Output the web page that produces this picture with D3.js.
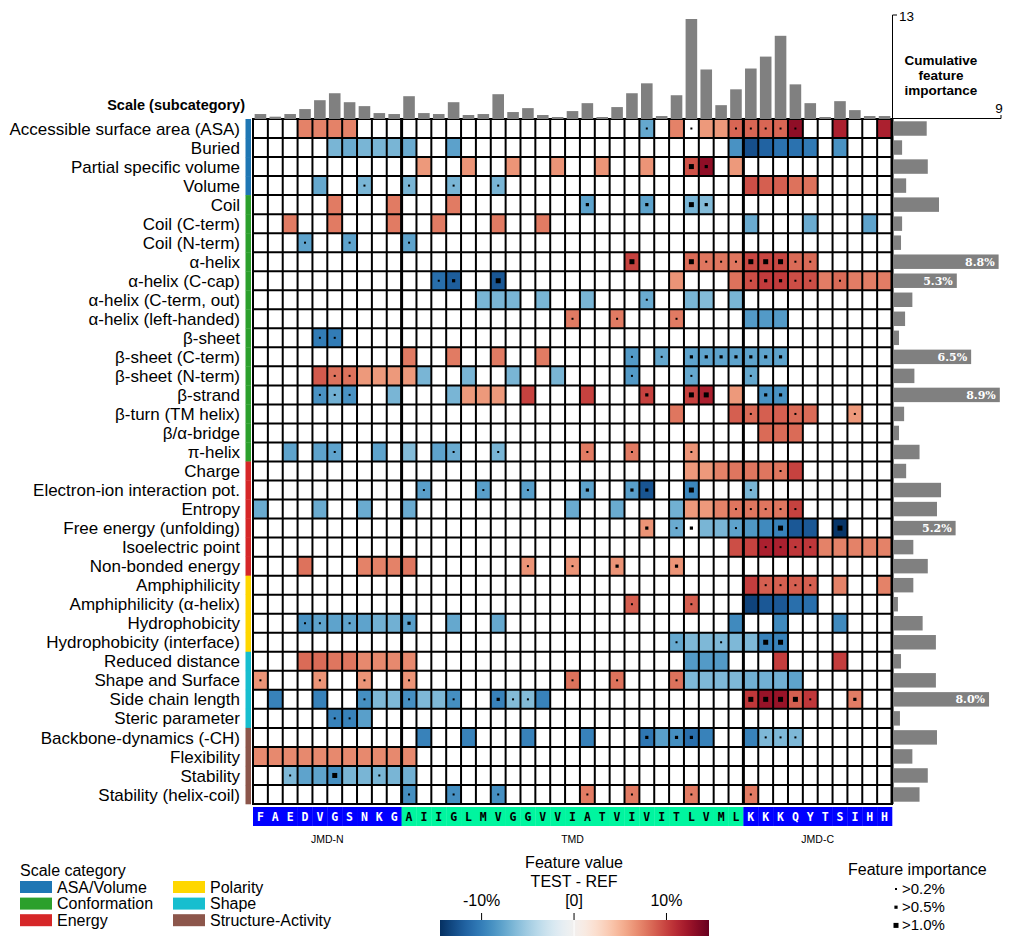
<!DOCTYPE html>
<html><head><meta charset="utf-8">
<script src="https://cdn.jsdelivr.net/npm/d3@7"></script>
<style>
body{margin:0;background:#fff;}
text{font-family:"Liberation Sans", Arial, sans-serif;}
</style></head><body>
<svg id="chart" width="1013" height="947"></svg>
<script>
// ---------------- DATA ----------------
const residues = [..."FAEDVGSNKGAIIGLMVGGVVIATVIVITLVMLKKKQYTSIHH"];
const parts = [
  {name:"JMD-N", start:0, end:10},
  {name:"TMD", start:10, end:33},
  {name:"JMD-C", start:33, end:43}
];
const scales = ["Accessible surface area (ASA)","Buried","Partial specific volume","Volume",
 "Coil","Coil (C-term)","Coil (N-term)","α-helix","α-helix (C-cap)","α-helix (C-term, out)",
 "α-helix (left-handed)","β-sheet","β-sheet (C-term)","β-sheet (N-term)","β-strand",
 "β-turn (TM helix)","β/α-bridge","π-helix","Charge","Electron-ion interaction pot.","Entropy",
 "Free energy (unfolding)","Isoelectric point","Non-bonded energy","Amphiphilicity",
 "Amphiphilicity (α-helix)","Hydrophobicity","Hydrophobicity (interface)","Reduced distance",
 "Shape and Surface","Side chain length","Steric parameter","Backbone-dynamics (-CH)",
 "Flexibility","Stability","Stability (helix-coil)"];
const scaleCategory = [0,0,0,0, 1,1,1,1,1,1,1,1,1,1,1,1,1,1, 2,2,2,2,2,2, 3,3,3,3, 4,4,4,4, 5,5,5,5];
const categoryNames = ["ASA/Volume","Conformation","Energy","Polarity","Shape","Structure-Activity"];
const categoryColors = ["#1f77b4","#2ca02c","#d62728","#ffd700","#17becf","#8c564b"];

// cumulative feature importance per residue position
const positionImportance = [0.62,0.29,0.62,1.24,2.35,3.22,2.1,1.61,0.74,0.62,
  2.85,0.74,0.62,2.1,0.5,0.62,3.1,0.87,1.36,0.5,0.25,0.99,1.98,0.25,1.49,3.22,4.46,0.37,2.97,
  12.5,6.19,1.73,3.71,
  6.31,7.8,10.4,4.33,1.98,0.25,2.23,1.11,0.37,0.37];
// feature importance per scale (%)
const scaleImportance = [2.78,0.72,2.87,1.06,3.81,0.72,0.63,8.8,5.3,1.58,0.97,0.46,6.5,1.75,8.9,
  0.89,0.46,2.18,1.06,3.98,3.64,5.2,1.66,2.87,1.66,0.37,2.44,3.55,0.63,3.55,8.0,0.54,3.64,1.58,2.87,2.18];

// feature values per scale: [position, value (%), importance level 0-3]
const featureValues = [
 [[3,7.3],[4,7.3],[5,7.3],[6,7.3],[26,-7.5,1],[28,7.3],[29,0,1],[30,6.3],[31,6.3],[32,8.5,1],[33,8.5,1],[34,8.5,1],[35,8.5,1],[36,13,1],[39,11.7],[42,11.7]],
 [[5,-6.7],[6,-7.3],[7,-6.7],[8,-6.7],[9,-6.7],[10,-7.3],[13,-7.9],[32,-8.8],[33,-12.8],[34,-11.7],[35,-10.8],[36,-10.8],[37,-10.3],[39,-8.8]],
 [[11,6.3],[14,6.5],[17,6.5],[20,6.5],[23,6.5],[26,6.5],[29,9.3,3],[30,13,2],[32,6.3]],
 [[4,-7.5],[7,-6.7,1],[10,-6.7,1],[13,-6.7,1],[16,-6.7,1],[33,9.5],[34,8.8],[35,8.8],[36,8],[37,8]],
 [[5,7.6],[9,7.6],[13,7.6],[22,-7.8,2],[26,-7.8,2],[29,-6.7,3],[30,-6.3,2]],
 [[2,7.6],[5,7.6],[9,7.6],[12,7.6],[16,7.6],[19,7.6],[33,-7.3],[37,-7.3],[41,-7.8]],
 [[3,-7.8,1],[6,-7.8,1],[10,-7.8,1]],
 [[25,10,3],[29,8.3,3],[30,7.8,1],[31,7.8,1],[32,7.8,1],[33,9.8,3],[34,9.8,3],[35,9.8,3],[36,8.3,1],[37,8.3,1]],
 [[12,-11,1],[13,-12,2],[16,-12.4,3],[28,6.5],[32,8],[33,9.5,1],[34,10.3,2],[35,10.3,2],[36,9.5,1],[37,9.5,1],[38,7.5],[39,8.3,1],[40,7.5],[41,7.5],[42,7.5]],
 [[15,-6.7],[16,-6.7],[17,-6.7],[19,-6.7],[22,-6.7],[26,-7.3,1],[29,-6.7],[30,-6.3],[32,-6.7]],
 [[21,7.6,1],[24,7.6,1],[28,7.6,1],[33,-8.3],[34,-8.3],[35,-8.3]],
 [[4,-10.2,1],[5,-10.2,1]],
 [[10,7.6],[13,7.6],[16,7.6],[19,7.6],[25,-8.3,1],[27,-7.5,1],[29,-7.8,2],[30,-7.8,2],[31,-7.8,2],[32,-7.8,2],[33,-7.8,2],[34,-7.8,2],[35,-7.8,2]],
 [[4,9],[5,8,1],[6,8,1],[7,6.3],[8,6.3],[9,6.3],[10,6.3],[11,-6.7],[14,-6.7],[17,-6.7],[20,-6.7],[25,-8.3,1],[29,-7.5,1],[33,-7.5,1]],
 [[4,-8.8,1],[5,-7,1],[6,-8.8,1],[9,-6.7],[13,-6.7],[14,6.3],[15,6.3],[16,6.3],[18,10],[22,10],[26,10,2],[29,10,3],[30,11.7,3],[32,6.3],[34,-8.8,2],[35,-8.8,2]],
 [[28,7.8],[32,8.8],[33,8.3,1],[34,8.8],[35,8.8],[36,8.3,1],[37,8.3],[40,6.3,1]],
 [[34,8.3],[35,8.3],[36,8.3]],
 [[2,-7.8],[4,-7.8],[5,-7.8,1],[8,-7.8],[10,-6.3],[12,-7.8],[13,-7.3,1],[16,-6.7,1],[22,7.6,1],[25,7.6,1],[29,6.5,1]],
 [[29,6.3],[30,6.3],[31,7.3],[32,7.8],[33,7.8],[34,7.8],[35,7.8,1],[36,10]],
 [[11,-8,1],[15,-8,1],[18,-8,1],[22,-7.8,2],[25,-8,2],[26,-12.5,2],[29,-9.5,3],[33,-6.7,1]],
 [[0,-7.3],[4,-7.3],[7,-7.3],[10,-7.3],[21,-7.3],[24,-7.3],[28,-7],[29,6.3],[30,6.3],[31,7.3],[32,7.8,1],[33,7.8,1],[34,7.8,1],[35,7.8,1],[36,10,1]],
 [[26,6.5,2],[28,-7.3,1],[29,0,2],[30,-6.7],[31,-6.7],[32,-7.8,1],[33,-8.5],[34,-9.3],[35,-9.8,3],[36,-12.3],[37,-12.3],[39,-14.2,3]],
 [[32,9.5],[33,10],[34,11.7,1],[35,11.7,1],[36,10.5,1],[37,10.5,1],[38,7.3],[39,7.3],[40,7.3],[41,7.3],[42,7.3]],
 [[3,8],[7,7.3],[8,7.3],[9,7.3],[10,7.8],[18,6.5,1],[21,6.5,1],[24,6.5,2],[28,6.5,2]],
 [[33,10.2],[34,8.8,1],[35,8.8,1],[36,8.8,1],[37,8.8,1],[39,7.3],[42,7.3]],
 [[25,8.8,1],[29,8.8,1],[33,-13.5],[34,-12.3],[35,-12.3],[36,-11],[37,-11]],
 [[3,-8.8,1],[4,-7.8,1],[5,-7.8],[6,-7.8,1],[7,-7.8],[8,-7],[9,-7],[10,-8,2],[13,-7.5],[16,-7.5],[32,-9.3],[35,-9.3],[39,-9.3]],
 [[28,-7.5,1],[29,-6.5],[30,-6.5],[31,-6.5,1],[32,-6.5],[33,-6.5],[34,-9.8,3],[35,-9.8,3]],
 [[3,8.3],[4,8.3],[5,7.8],[6,7.8],[7,7],[8,7],[9,7],[10,7],[29,-8.3],[30,-8.3],[31,-8.3],[35,10.2],[39,10.2]],
 [[0,6.5,1],[4,6.5,1],[7,6.5,1],[10,6.5,1],[21,8,1],[24,8,1],[28,8,1],[29,-6.5],[30,-6.5],[31,-6.5],[32,-6.5],[33,-7],[34,-7],[35,-7],[36,-7.8]],
 [[1,-9.8],[4,-9.8],[7,-9,1],[8,-6.5],[9,-6.5],[10,-9,1],[11,-6.5],[12,-6.5],[13,-9,1],[16,-9.8,2],[17,-6.3,1],[18,-6.3,1],[19,-9.8],[33,10.5,3],[34,12.6,3],[35,12.6,3],[36,8.8,3],[37,10.5,1],[40,7.5,2]],
 [[5,-9.8,1],[6,-9.8,1],[7,-8]],
 [[11,-9.8],[14,-9.8],[18,-9.8],[22,-9.8],[26,-10.5,2],[27,-8],[28,-9,2],[29,-11,2],[30,-9.8],[33,-9.8],[34,-6.5,1],[35,-6.5,1],[36,-6.5,1]],
 [[0,7],[1,7],[2,7],[3,7],[4,7],[5,7],[6,7],[7,7],[8,7],[9,7],[10,7]],
 [[2,-6.5,1],[3,-7.8],[4,-7.8],[5,-9,3],[6,-6.7],[7,-6.7],[8,-6.7,1],[9,-6.7],[10,-7]],
 [[10,-9,1],[13,-9,1],[16,-9,1],[22,7.6,1],[25,7.6,1],[29,7.6,1],[33,7.6,1]]
];
const colorTicks = [-10, 0, 10];
const colorTickLabels = ["-10%", "[0]", "10%"];
const importanceLevels = [">0.2%", ">0.5%", ">1.0%"];

// ---------------- DRAW ----------------
const svg = d3.select("#chart");
const X0 = 253, X1 = 892, Y0 = 119, Y1 = 804;
const xb = d3.scaleBand().domain(d3.range(residues.length)).range([X0, X1]);
const yb = d3.scaleBand().domain(d3.range(scales.length)).range([Y0, Y1]);
const bw = xb.bandwidth(), bh = yb.bandwidth();
const color = d3.scaleDiverging(t => d3.interpolateRdBu(1 - t)).domain([-14.5, 0, 14.6]);
const dotSize = [0, 2, 3.2, 5];

// cells
const cells = [];
featureValues.forEach((row, r) => row.forEach(([c, v, imp]) => cells.push({r, c, v, imp: imp || 0})));
svg.append("g").selectAll("rect").data(cells).join("rect")
  .attr("x", d => xb(d.c)).attr("y", d => yb(d.r))
  .attr("width", bw).attr("height", bh)
  .attr("fill", d => d.v === 0 ? "#fff" : color(d.v));

// grid
const grid = svg.append("g").attr("stroke", "#000");
d3.range(residues.length + 1).forEach(i => {
  const x = i === residues.length ? X1 : xb(i);
  const thick = (i === 10 || i === 33 || i === residues.length);
  grid.append("line").attr("x1", x).attr("x2", x).attr("y1", Y0).attr("y2", Y1)
    .attr("stroke-width", thick ? 3 : 2);
});
d3.range(scales.length + 1).forEach(r => {
  const y = r === scales.length ? Y1 : yb(r);
  grid.append("line").attr("x1", X0 - 1).attr("x2", X1 + 1).attr("y1", y).attr("y2", y)
    .attr("stroke-width", 2);
});

// importance dots
svg.append("g").selectAll("rect").data(cells.filter(d => d.imp > 0)).join("rect")
  .attr("x", d => xb(d.c) + bw / 2 - dotSize[d.imp] / 2)
  .attr("y", d => yb(d.r) + bh / 2 - dotSize[d.imp] / 2)
  .attr("width", d => dotSize[d.imp]).attr("height", d => dotSize[d.imp])
  .attr("fill", "#000");

// category strip
svg.append("g").selectAll("rect").data(scales).join("rect")
  .attr("x", 245.5).attr("width", 5.5)
  .attr("y", (d, i) => yb(i)).attr("height", bh + 0.3)
  .attr("fill", (d, i) => categoryColors[scaleCategory[i]]);

// row labels
svg.append("g").selectAll("text").data(scales).join("text")
  .attr("x", 240).attr("y", (d, i) => yb(i) + bh / 2)
  .attr("dy", "0.36em").attr("text-anchor", "end")
  .attr("font-size", 17).attr("fill", "#000").text(d => d);

svg.append("text").attr("x", 245).attr("y", 110).attr("text-anchor", "end")
  .attr("font-size", 14.5).attr("font-weight", "bold").text("Scale (subcategory)");

// top bars
const yTop = d3.scaleLinear().domain([0, 13]).range([Y0, 15]);
svg.append("g").selectAll("rect").data(positionImportance).join("rect")
  .attr("x", (d, i) => xb(i) + bw * 0.11).attr("width", bw * 0.78)
  .attr("y", d => yTop(d)).attr("height", d => Y0 - yTop(d))
  .attr("fill", "#808080");

// right bars
const xR = d3.scaleLinear().domain([0, 9]).range([893.5, 1001]);
svg.append("g").selectAll("rect").data(scaleImportance).join("rect")
  .attr("x", xR(0)).attr("width", d => xR(d) - xR(0))
  .attr("y", (d, i) => yb(i) + bh * 0.12).attr("height", bh * 0.76)
  .attr("fill", "#808080");
svg.append("g").selectAll("text").data(scaleImportance.map((v, i) => ({v, i})).filter(d => d.v >= 5)).join("text")
  .attr("x", d => xR(d.v) - 4).attr("y", d => yb(d.i) + bh / 2).attr("dy", "0.36em")
  .attr("text-anchor", "end").attr("fill", "#fff").attr("font-weight", "bold")
  .style("font-family", "'DejaVu Serif', serif").attr("font-size", 11)
  .text(d => d.v.toFixed(1) + "%");

// axes for marginal bars
const ax = svg.append("g").attr("stroke", "#000").attr("stroke-width", 1).attr("fill", "none");
ax.append("path").attr("d", `M${X1 + 0.5},${Y0}V15H897`);
ax.append("path").attr("d", `M${X1},${Y0 - 0.5}H${xR(9)}V${Y0 - 4}`);
svg.append("text").attr("x", 899).attr("y", 21).attr("font-size", 13.5).text("13");
svg.append("text").attr("x", 999).attr("y", 113).attr("text-anchor", "middle").attr("font-size", 13.5).text("9");
const cum = svg.append("text").attr("x", 941).attr("text-anchor", "middle")
  .attr("font-size", 13.5).attr("font-weight", "bold");
["Cumulative", "feature", "importance"].forEach((t, i) =>
  cum.append("tspan").attr("x", 941).attr("y", 65 + i * 15).text(t));

// sequence bar
const partOf = i => parts.find(p => i >= p.start && i < p.end);
const seq = svg.append("g");
seq.selectAll("rect").data(residues).join("rect")
  .attr("x", (d, i) => xb(i)).attr("width", bw + 0.3)
  .attr("y", 807).attr("height", 19)
  .attr("fill", (d, i) => partOf(i).name === "TMD" ? "#00f59f" : "#0000ff");
seq.selectAll("text").data(residues).join("text")
  .attr("x", (d, i) => xb(i) + bw / 2).attr("y", 817).attr("dy", "0.36em")
  .attr("text-anchor", "middle").attr("font-size", 11.5).attr("font-weight", "bold")
  .style("font-family", "'DejaVu Sans Mono', monospace")
  .attr("fill", (d, i) => partOf(i).name === "TMD" ? "#000" : "#fff")
  .text(d => d);
svg.append("g").selectAll("text").data(parts).join("text")
  .attr("x", d => (xb(d.start) + (d.end === residues.length ? X1 : xb(d.end))) / 2)
  .attr("y", 843).attr("text-anchor", "middle").attr("font-size", 10.5).text(d => d.name);

// category legend
svg.append("text").attr("x", 20).attr("y", 876).attr("font-size", 16).text("Scale category");
const leg = svg.append("g");
categoryNames.forEach((n, i) => {
  const col = Math.floor(i / 3), row = i % 3;
  const px = col === 0 ? 20 : 173;
  const py = 881 + row * 16.6;
  leg.append("rect").attr("x", px).attr("y", py).attr("width", 32).attr("height", 12).attr("fill", categoryColors[i]);
  leg.append("text").attr("x", px + 37).attr("y", py + 11.5).attr("font-size", 16).text(n);
});

// colorbar
const cbX = d3.scaleLinear().domain([-14.5, 14.6]).range([440, 709]);
const defs = svg.append("defs");
const grad = defs.append("linearGradient").attr("id", "cbgrad");
d3.range(0, 1.0001, 0.02).forEach(t => {
  const v = -14.5 + t * 29.1;
  grad.append("stop").attr("offset", t).attr("stop-color", color(v));
});
svg.append("rect").attr("x", cbX(-14.5)).attr("y", 920).attr("width", cbX(14.6) - cbX(-14.5)).attr("height", 16)
  .attr("fill", "url(#cbgrad)");
svg.append("line").attr("x1", cbX(0)).attr("x2", cbX(0)).attr("y1", 920).attr("y2", 936)
  .attr("stroke", "#fff").attr("stroke-width", 1);
colorTicks.forEach((t, i) => {
  svg.append("line").attr("x1", cbX(t)).attr("x2", cbX(t)).attr("y1", 913).attr("y2", 920)
    .attr("stroke", "#000").attr("stroke-width", 1);
  svg.append("text").attr("x", cbX(t)).attr("y", 906).attr("text-anchor", "middle")
    .attr("font-size", 16).text(colorTickLabels[i]);
});
svg.append("text").attr("x", cbX(0)).attr("y", 868).attr("text-anchor", "middle").attr("font-size", 16).text("Feature value");
svg.append("text").attr("x", cbX(0)).attr("y", 887).attr("text-anchor", "middle").attr("font-size", 16).text("TEST - REF");

// importance legend
svg.append("text").attr("x", 848).attr("y", 875).attr("font-size", 16).text("Feature importance");
importanceLevels.forEach((t, i) => {
  const s = dotSize[i + 1];
  const y = 889 + i * 18.2;
  svg.append("rect").attr("x", 896 - s / 2).attr("y", y - s / 2).attr("width", s).attr("height", s).attr("fill", "#000");
  svg.append("text").attr("x", 902).attr("y", y + 5).attr("font-size", 15).text(t);
});
</script>
</body></html>
